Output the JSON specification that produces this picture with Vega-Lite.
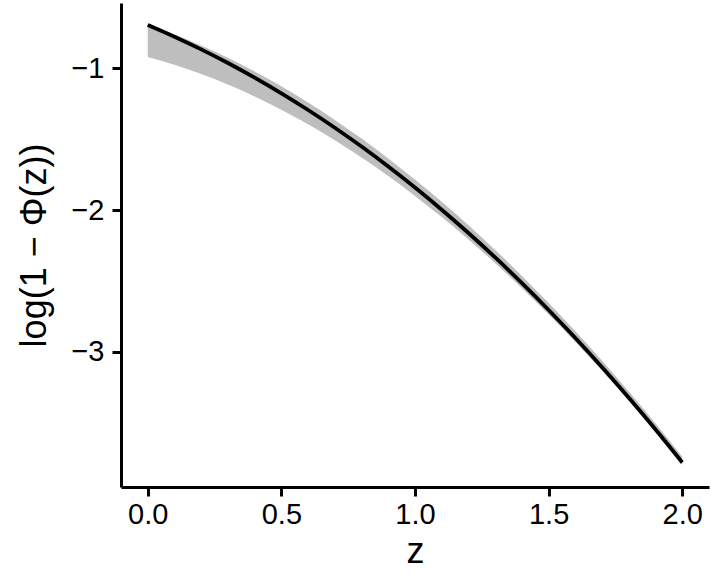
{
  "$schema": "https://vega.github.io/schema/vega-lite/v6.json",
  "width": 588,
  "height": 484,
  "autosize": {"type": "none"},
  "padding": {"left": 121, "top": 3, "right": 2, "bottom": 95},
  "background": "white",
  "config": {
    "view": {"stroke": null},
    "font": "Liberation Sans",
    "axis": {
      "grid": false,
      "domainColor": "black",
      "domainWidth": 3,
      "tickColor": "black",
      "tickWidth": 3,
      "tickSize": 9,
      "labelColor": "black",
      "labelFontSize": 29,
      "labelFont": "Liberation Sans",
      "titleFont": "Liberation Sans",
      "titleFontSize": 36,
      "titleFontWeight": "normal",
      "titleColor": "black"
    }
  },
  "data": {
    "values": [
      {"z": 0.0, "y": -0.693147, "lo": -0.918939, "hi": -0.693148},
      {"z": 0.1, "y": -0.776155, "lo": -0.973918, "hi": -0.760769},
      {"z": 0.2, "y": -0.865741, "lo": -1.038771, "hi": -0.838153},
      {"z": 0.3, "y": -0.962102, "lo": -1.113382, "hi": -0.925056},
      {"z": 0.4, "y": -1.065435, "lo": -1.197629, "hi": -1.021257},
      {"z": 0.5, "y": -1.175910, "lo": -1.291405, "hi": -1.126561},
      {"z": 0.6, "y": -1.293704, "lo": -1.394609, "hi": -1.240800},
      {"z": 0.7, "y": -1.418966, "lo": -1.507155, "hi": -1.363834},
      {"z": 0.8, "y": -1.551854, "lo": -1.628970, "hi": -1.495546},
      {"z": 0.9, "y": -1.692493, "lo": -1.759984, "hi": -1.635852},
      {"z": 1.0, "y": -1.841023, "lo": -1.900151, "hi": -1.784695},
      {"z": 1.1, "y": -1.997560, "lo": -2.049417, "hi": -1.942045},
      {"z": 1.2, "y": -2.162214, "lo": -2.207764, "hi": -2.107886},
      {"z": 1.3, "y": -2.335108, "lo": -2.375153, "hi": -2.282220},
      {"z": 1.4, "y": -2.516311, "lo": -2.551604, "hi": -2.465061},
      {"z": 1.5, "y": -2.705947, "lo": -2.737086, "hi": -2.656431},
      {"z": 1.6, "y": -2.904084, "lo": -2.931605, "hi": -2.856393},
      {"z": 1.7, "y": -3.110806, "lo": -3.135176, "hi": -3.064956},
      {"z": 1.8, "y": -3.326182, "lo": -3.347805, "hi": -3.282184},
      {"z": 1.9, "y": -3.550266, "lo": -3.569502, "hi": -3.508118},
      {"z": 2.0, "y": -3.783190, "lo": -3.800313, "hi": -3.742807}
    ]
  },
  "encoding": {
    "x": {
      "field": "z",
      "type": "quantitative",
      "scale": {"domain": [-0.1, 2.1], "nice": false, "zero": false},
      "axis": {"values": [0, 0.5, 1, 1.5, 2], "format": ".1f", "title": "z", "labelPadding": 4, "titlePadding": 5}
    }
  },
  "layer": [
    {
      "mark": {"type": "area", "color": "#bebebe", "interpolate": "monotone"},
      "encoding": {
        "y": {
          "field": "lo",
          "type": "quantitative",
          "scale": {"domain": [-3.956, -0.538], "nice": false, "zero": false},
          "axis": {"values": [-3, -2, -1], "format": "d", "title": "log(1 − Φ(z))", "labelPadding": 8, "titlePadding": 17}
        },
        "y2": {"field": "hi"}
      }
    },
    {
      "mark": {"type": "line", "color": "black", "strokeWidth": 3.8, "interpolate": "monotone"},
      "encoding": {
        "y": {"field": "y", "type": "quantitative"}
      }
    }
  ]
}
